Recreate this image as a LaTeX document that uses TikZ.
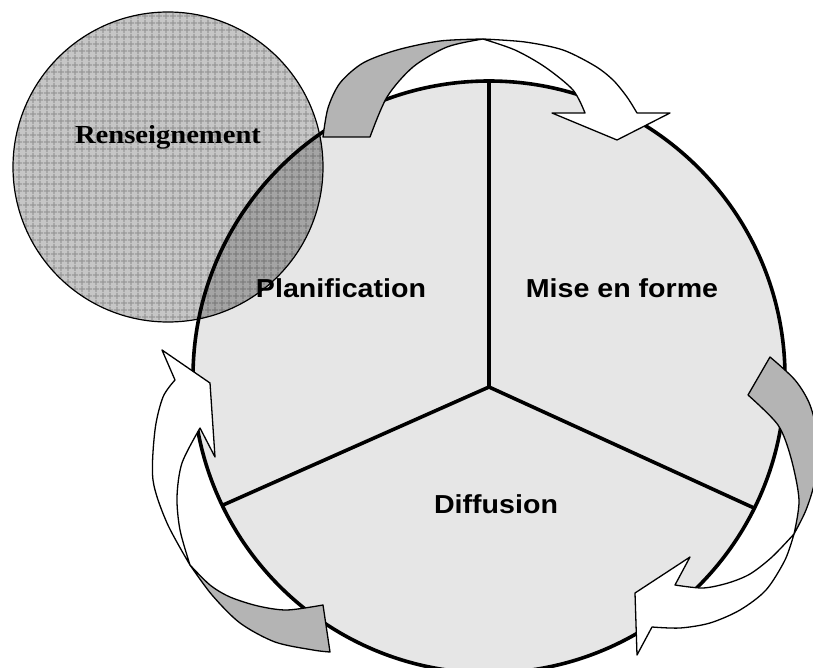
\documentclass[tikz,border=0pt]{standalone}
\usepackage{fontspec}
\usepackage{xcolor}
\usetikzlibrary{calc, patterns.meta}
\newfontfamily\lblsans{Liberation Sans}[FakeStretch=1.1]
\newfontfamily\lblserif{Liberation Serif}[FakeStretch=1.1]
\definecolor{figL}{RGB}{230,230,230}
\definecolor{figA}{RGB}{180,180,180}
\definecolor{figH}{RGB}{198,198,198}
\definecolor{figHl}{RGB}{152,152,152}
\tikzset{arrW/.style={fill=white, draw=black, line width=1.3pt, line join=round},
  arrG/.style={fill=figA, draw=black, line width=1.3pt, line join=round},
  lbl/.style={font=\lblsans\bfseries\fontsize{26}{30}\selectfont, anchor=base}}

\begin{document}
\begin{tikzpicture}[x=1pt, y=-1pt]
\useasboundingbox (0,0) rectangle (813,668);
\clip (0,0) rectangle (813,668);
% main circle
\coordinate (C) at (489,377);
\coordinate (J) at (489,387);
\fill[figL] (C) circle[radius=296];
% Renseignement circle, darker where it overlaps
\coordinate (R) at (168,167);
\fill[figH] (R) circle[radius=155];
\fill[pattern={Hatch[angle=0, distance=6.5pt, line width=1.2pt]}, pattern color=figHl] (R) circle[radius=155];
\begin{scope}
  \clip (C) circle[radius=296];
  \fill[black, opacity=0.17] (R) circle[radius=155];
\end{scope}
\draw[line width=1.2pt] (R) circle[radius=155];
% outline and the three sectors
\draw[line width=3.6pt] (C) circle[radius=296];
\draw[line width=3.6pt] (J) -- ($(C)+(270:296)$)
  (J) -- ($(C)+(154.3:296)$)
  (J) -- ($(C)+(26.3:296)$);
% top arrow
\filldraw[arrG] (323,137) -- plot[smooth] coordinates {(323,137) (328,108) (340,83) (363,63) (397,50) (440,41) (483,39)}
  -- plot[smooth] coordinates {(483,39) (447,47) (413,67) (387,97) (370,137)} -- cycle;
\filldraw[arrW] (483,39) -- plot[smooth] coordinates {(483,39) (525,42) (563,50) (595,66) (613,80) (627,97) (637,113)}
  -- (670,113) -- (617,140) -- (552,113) -- (585,113)
  -- plot[smooth] coordinates {(585,113) (573,90) (545,67) (515,50) (483,39)} -- cycle;
% right arrow
\filldraw[arrG] (770,357) -- plot[smooth] coordinates {(770,357) (795,380) (810,405) (818,440) (815,480) (806,510) (794,534)}
  -- plot[smooth] coordinates {(794,534) (799,500) (791,458) (778,425) (748,395)} -- cycle;
\filldraw[arrW] (794,534) -- plot[smooth] coordinates {(794,534) (785,560) (766,590) (740,610) (710,623) (680,628) (652,627)}
  -- (637,655) -- (635,593) -- (690,557) -- (675,585)
  -- plot[smooth] coordinates {(675,585) (703,588) (728,583) (750,574) (772,557) (794,534)} -- cycle;
% lower left arrow
\filldraw[arrG] (190,565) -- plot[smooth] coordinates {(190,565) (212,595) (240,623) (275,642) (313,650) (330,652)}
  -- (323,605) -- plot[smooth] coordinates {(323,605) (287,610) (258,606) (230,597) (210,585) (190,565)} -- cycle;
\filldraw[arrW] (190,565) -- plot[smooth] coordinates {(190,565) (180,530) (177,497) (182,463) (200,428)}
  -- (215,457) -- (210,383) -- (162,350) -- (175,380)
  -- plot[smooth] coordinates {(175,380) (163,397) (155,430) (153,480) (167,523) (190,565)} -- cycle;
% labels
\node[font=\lblserif\bfseries\fontsize{26}{30}\selectfont, anchor=base] (ren) at (168,144) {Renseignement};
\node[lbl] (pla) at (341,297) {Planification};
\node[lbl] (mef) at (622,297) {Mise en forme};
\node[lbl] (dif) at (496,513) {Diffusion};
\end{tikzpicture}
\end{document}
